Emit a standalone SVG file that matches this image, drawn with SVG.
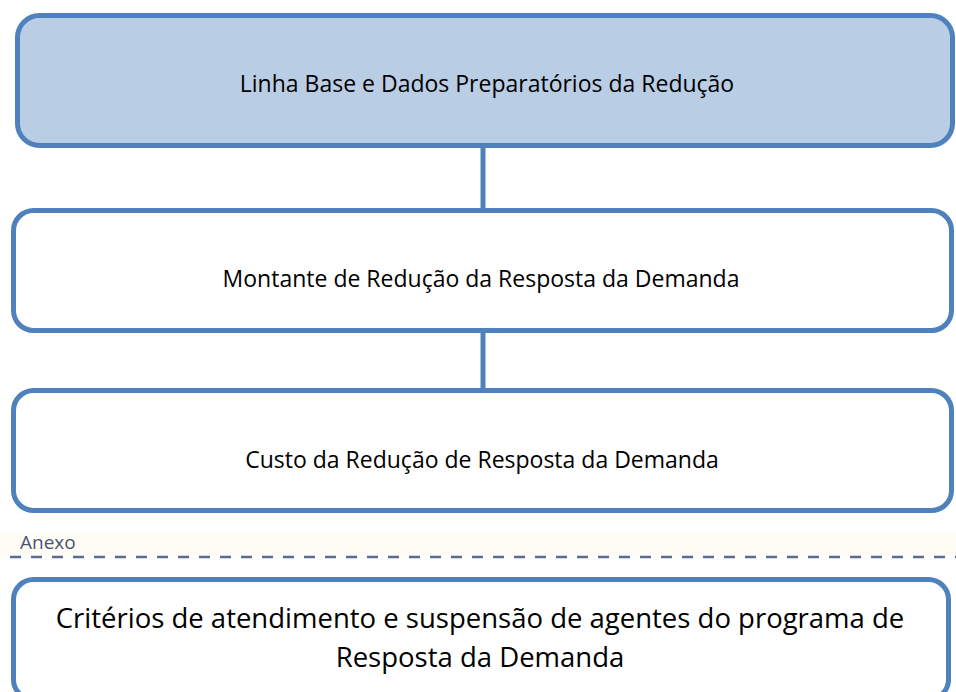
<svg xmlns="http://www.w3.org/2000/svg" width="956" height="692" viewBox="0 0 956 692">
<style>
.box{stroke:#4f81bd;stroke-width:5;fill:#ffffff}
.t{font-family:"Open Sans","Liberation Sans",sans-serif;fill:#000;text-anchor:middle}
.c{stroke:#4f81bd;stroke-width:5;fill:none}
</style>
<rect width="956" height="692" fill="#fff"/>
<g id="connectors">
<line class="c" x1="483" y1="146" x2="483" y2="211"/>
<line class="c" x1="483" y1="331" x2="483" y2="391"/>
</g>
<g id="n1">
<rect class="box" x="17.5" y="15.5" width="935" height="130" rx="22" style="fill:#b9cde5"/>
<text class="t" x="487" y="92" font-size="23">Linha Base e Dados Preparatórios da Redução</text>
</g>
<g id="n2">
<rect class="box" x="13.5" y="210.5" width="938" height="120" rx="20"/>
<text class="t" x="481" y="287" font-size="23">Montante de Redução da Resposta da Demanda</text>
</g>
<g id="n3">
<rect class="box" x="13.5" y="390.5" width="938" height="120" rx="20"/>
<text class="t" x="482" y="468" font-size="23">Custo da Redução de Resposta da Demanda</text>
</g>
<g id="annex">
<rect x="0" y="533" width="956" height="22" fill="#fdfdf6"/>
<text x="20" y="549" font-family="'Open Sans','Liberation Sans',sans-serif" font-size="19" font-weight="500" fill="#4a5470">Anexo</text>
<line x1="10" y1="557" x2="956" y2="557" stroke="#5b6b8c" stroke-width="2.5" stroke-dasharray="11,10"/>
</g>
<g id="n4">
<rect class="box" x="13.5" y="579.5" width="935" height="120" rx="20"/>
<text class="t" x="480" y="628" font-size="27.5">Critérios de atendimento e suspensão de agentes do programa de</text>
<text class="t" x="480" y="667" font-size="27.5">Resposta da Demanda</text>
</g>
</svg>
